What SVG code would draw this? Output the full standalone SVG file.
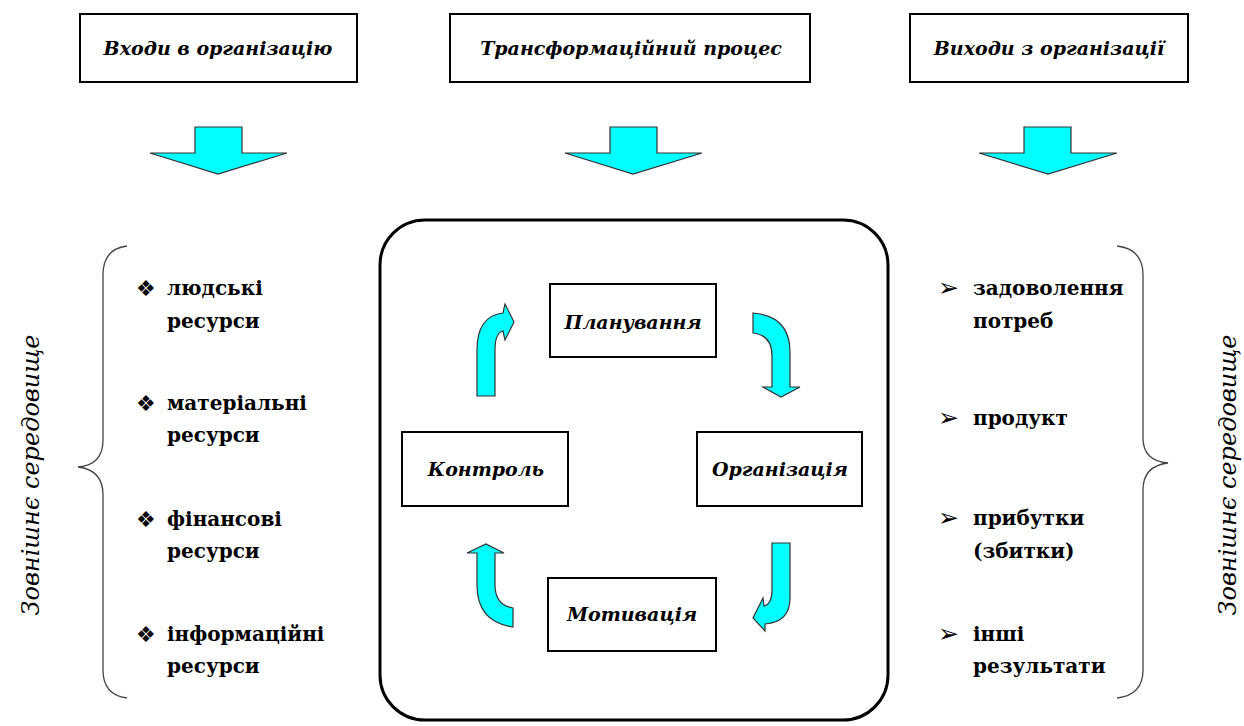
<svg xmlns="http://www.w3.org/2000/svg" width="1244" height="726" viewBox="0 0 1244 726">
<style>
.box{fill:#fff;stroke:#000;stroke-width:2}
.hdr{font-family:"DejaVu Serif",serif;font-style:italic;font-weight:bold;font-size:19px;text-anchor:middle}
.lbl{font-family:"DejaVu Serif",serif;font-style:italic;font-weight:bold;font-size:19px;text-anchor:middle}
.item{font-family:"DejaVu Serif",serif;font-weight:bold;font-size:20px}
.bul{font-family:"DejaVu Sans",sans-serif;font-size:22px}
.bul2{font-family:"DejaVu Sans",sans-serif;font-size:25px}
.vert{font-family:"DejaVu Serif",serif;font-style:italic;font-size:24px;text-anchor:middle}
.arr{fill:#00ffff;stroke:#333;stroke-width:1.2;stroke-linejoin:miter}
.brace{fill:none;stroke:#444;stroke-width:1.3}
</style>
<rect width="1244" height="726" fill="#fff"/>
<g id="hdr-inputs"><rect class="box" x="80" y="14" width="277" height="68"/><text class="hdr" x="218" y="55">Входи в організацію</text></g>
<g id="hdr-transform"><rect class="box" x="450" y="14" width="360" height="68"/><text class="hdr" x="631" y="55">Трансформаційний процес</text></g>
<g id="hdr-outputs"><rect class="box" x="910" y="14" width="278" height="68"/><text class="hdr" x="1049" y="55">Виходи з організації</text></g>
<g id="down-arrows">
<path class="arr" d="M195,127 L242,127 L242,153 L287,153 L218,174 L150,153 L195,153 Z"/>
<path class="arr" d="M610,127 L657,127 L657,153 L702,153 L633,174 L565,153 L610,153 Z"/>
<path class="arr" d="M1024,127 L1071,127 L1071,153 L1117,153 L1048,174 L979,153 L1024,153 Z"/>
</g>
<g id="process"><rect x="380" y="220" width="508" height="500" rx="45" ry="45" fill="none" stroke="#000" stroke-width="3"/></g>
<g id="planning"><rect class="box" x="550" y="284" width="166" height="73"/><text class="lbl" x="633" y="329">Планування</text></g>
<g id="control"><rect class="box" x="402" y="432" width="166" height="74"/><text class="lbl" x="486" y="476">Контроль</text></g>
<g id="organization"><rect class="box" x="697" y="432" width="165" height="74"/><text class="lbl" x="780" y="476">Організація</text></g>
<g id="motivation"><rect class="box" x="548" y="578" width="168" height="73"/><text class="lbl" x="632" y="621">Мотивація</text></g>
<g id="connectors">
<path class="arr" d="M477,396 L477,350 Q477,316 503,313 L505,304 L514,322 L505,340 L503,331 Q495,333 495,350 L495,396 Z"/>
<path class="arr" d="M753,313 Q790,316 790,352 L790,387 L800,387 L781,397 L763,387 L772,387 L772,356 Q772,335 753,333 Z"/>
<path class="arr" d="M772,543 L790,543 L790,598 Q790,622 765,624 L765,631 L753,618 L763,598 L764,606 Q772,604 772,590 Z"/>
<path class="arr" d="M477,553 L467,553 L486,544 L504,553 L495,553 L495,585 Q495,605 513,608 L513,627 Q477,622 477,585 Z"/>
</g>
<g id="left-brace"><path class="brace" d="M127,246 Q103,249 103,275 L103,440 Q103,465 78,467 Q103,470 103,495 L103,670 Q103,695 127,698"/></g>
<g id="right-brace"><path class="brace" d="M1117,246 Q1143,249 1143,275 L1143,438 Q1143,461 1168,463 Q1143,466 1143,490 L1143,670 Q1143,695 1117,698"/></g>
<g id="env-left"><text class="vert" transform="translate(39,475) rotate(-90)">Зовнішнє середовище</text></g>
<g id="env-right"><text class="vert" transform="translate(1236,475) rotate(-90)">Зовнішнє середовище</text></g>
<g id="inputs">
<text class="bul" x="136" y="296">❖</text><text class="item" x="167" y="295">людські</text><text class="item" x="167" y="328">ресурси</text>
<text class="bul" x="136" y="411">❖</text><text class="item" x="167" y="410">матеріальні</text><text class="item" x="167" y="442">ресурси</text>
<text class="bul" x="136" y="527">❖</text><text class="item" x="167" y="526">фінансові</text><text class="item" x="167" y="558">ресурси</text>
<text class="bul" x="136" y="642">❖</text><text class="item" x="167" y="641">інформаційні</text><text class="item" x="167" y="673">ресурси</text>
</g>
<g id="outputs">
<text class="bul2" x="938" y="296">➢</text><text class="item" x="973" y="295">задоволення</text><text class="item" x="973" y="328">потреб</text>
<text class="bul2" x="938" y="426">➢</text><text class="item" x="973" y="425">продукт</text>
<text class="bul2" x="938" y="526">➢</text><text class="item" x="973" y="525">прибутки</text><text class="item" x="973" y="558">(збитки)</text>
<text class="bul2" x="938" y="642">➢</text><text class="item" x="973" y="641">інші</text><text class="item" x="973" y="673">результати</text>
</g>
</svg>
